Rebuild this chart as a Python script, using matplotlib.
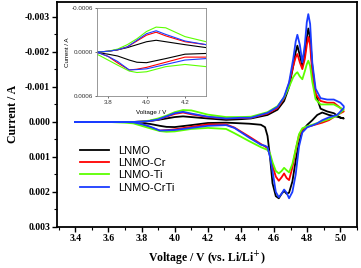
import numpy as np
import matplotlib
matplotlib.use('Agg')
import matplotlib.pyplot as plt
from matplotlib.ticker import FixedLocator, MultipleLocator

# anodic sweep (upper branch), shared voltage grid
v_up = [3.40, 3.60, 3.75, 3.80, 3.85, 3.90, 3.95, 4.00, 4.05, 4.10, 4.20, 4.31,
        4.40, 4.46, 4.56, 4.62, 4.66, 4.69, 4.715, 4.73, 4.74, 4.755, 4.77,
        4.785, 4.797, 4.806, 4.817, 4.83, 4.85, 4.88, 4.92, 4.96, 5.00, 5.02]
i_up_lnmo = [0, 0, 0, -1e-5, -3e-5, -6e-5, -1e-4, -1.4e-4, -1.6e-4, -1.4e-4,
             -1.0e-4, -6e-5, -8e-5, -1e-4, -2e-4, -3.5e-4, -6e-4, -1.0e-3,
             -1.6e-3, -2.0e-3, -2.18e-3, -1.9e-3, -1.6e-3, -1.9e-3, -2.4e-3,
             -2.67e-3, -2.4e-3, -1.6e-3, -8e-4, -3.8e-4, -3e-4, -2.5e-4,
             -1.2e-4, -1.0e-4]
i_up_cr = [0, 0, 0, -1e-5, -3e-5, -7e-5, -1.5e-4, -2.3e-4, -2.7e-4, -2.2e-4,
           -1.4e-4, -1.0e-4, -1.1e-4, -1.2e-4, -2.4e-4, -4e-4, -6.8e-4, -1.1e-3,
           -1.6e-3, -1.85e-3, -1.94e-3, -1.7e-3, -1.51e-3, -1.8e-3, -2.2e-3,
           -2.43e-3, -2.2e-3, -1.4e-3, -8e-4, -6e-4, -5.5e-4, -5.5e-4, -4e-4,
           -3e-4]
i_up_ti = [0, 0, 0, -1e-5, -4e-5, -1e-4, -1.8e-4, -2.8e-4, -3.4e-4, -3.3e-4,
           -2.1e-4, -1.4e-4, -1.4e-4, -1.5e-4, -2.8e-4, -4.5e-4, -7e-4, -1.0e-3,
           -1.28e-3, -1.38e-3, -1.42e-3, -1.3e-3, -1.22e-3, -1.45e-3, -1.65e-3,
           -1.75e-3, -1.6e-3, -1.15e-3, -6.5e-4, -5e-4, -5e-4, -5e-4, -4e-4,
           -3.5e-4]
i_up_crti = [0, 0, 0, -1e-5, -3e-5, -7e-5, -1.6e-4, -2.5e-4, -2.9e-4, -2.4e-4,
             -1.5e-4, -1.0e-4, -1.2e-4, -1.2e-4, -2.6e-4, -4.3e-4, -7.2e-4,
             -1.13e-3, -1.8e-3, -2.3e-3, -2.49e-3, -2.2e-3, -1.7e-3, -2.2e-3,
             -2.85e-3, -3.08e-3, -2.8e-3, -1.7e-3, -9.5e-4, -6.8e-4, -6.4e-4,
             -6.4e-4, -5.5e-4, -4.5e-4]

# cathodic sweep (lower branch), shared voltage grid
v_dn = [5.02, 4.98, 4.93, 4.89, 4.86, 4.83, 4.80, 4.77, 4.75, 4.73, 4.71, 4.69,
        4.675, 4.66, 4.645, 4.628, 4.61, 4.59, 4.575, 4.56, 4.545, 4.52, 4.45,
        4.36, 4.31, 4.20, 4.10, 4.00, 3.95, 3.91, 3.85, 3.80, 3.75, 3.70, 3.60,
        3.40]
i_dn_lnmo = [-1.0e-4, -1.5e-4, -2.0e-4, -2.7e-4, -2.0e-4, -5e-5, 8e-5, 2.5e-4,
             6e-4, 1.1e-3, 1.7e-3, 2.02e-3, 2.05e-3, 1.97e-3, 2.05e-3, 2.18e-3,
             2.12e-3, 1.75e-3, 1.0e-3, 4e-4, 1.5e-4, 8e-5, 5e-5, 3e-5, 2e-5,
             3e-5, 9e-5, 1.46e-4, 1.4e-4, 1.1e-4, 5.5e-5, 3e-5, 1e-5, 0, 0, 0]
i_dn_cr = [-3e-4, -2e-4, -5e-5, 2e-5, 6e-5, 1e-4, 1.4e-4, 2.2e-4, 3.8e-4, 8e-4,
           1.3e-3, 1.66e-3, 1.6e-3, 1.47e-3, 1.58e-3, 1.68e-3, 1.56e-3, 1.25e-3,
           9.5e-4, 7.5e-4, 7e-4, 6.3e-4, 4.2e-4, 1.6e-4, 7e-5, 7e-5, 1.4e-4,
           2.1e-4, 2.35e-4, 2.45e-4, 1.5e-4, 6e-5, 1e-5, 0, 0, 0]
i_dn_ti = [-3.5e-4, -1.8e-4, -8e-5, -2e-5, 3e-5, 8e-5, 1.2e-4, 1.8e-4, 3.5e-4,
           7.8e-4, 1.2e-3, 1.44e-3, 1.38e-3, 1.31e-3, 1.4e-3, 1.47e-3, 1.4e-3,
           1.15e-3, 9e-4, 8e-4, 7.7e-4, 7.2e-4, 5.5e-4, 3.2e-4, 2e-4, 1.7e-4,
           2.0e-4, 2.7e-4, 2.8e-4, 2.6e-4, 1.8e-4, 1.1e-4, 4e-5, 2e-5, 0, 0]
i_dn_crti = [-4e-4, -2e-4, -1.3e-4, -5e-5, 4e-5, 1e-4, 1.5e-4, 3e-4, 7e-4,
             1.5e-3, 2.0e-3, 2.18e-3, 2.02e-3, 1.93e-3, 2.05e-3, 2.15e-3, 2.0e-3,
             1.4e-3, 1.0e-3, 7.2e-4, 6.8e-4, 6.5e-4, 4.5e-4, 1.7e-4, 9e-5,
             1.1e-4, 1.7e-4, 2.3e-4, 2.4e-4, 2.45e-4, 1.3e-4, 6e-5, 1e-5, 0, 0, 0]

labels = ['LNMO', 'LNMO-Cr', 'LNMO-Ti', 'LNMO-CrTi']
colors = ['#000000', '#ff0000', '#5cff00', '#1a3cff']
up_curves = [i_up_lnmo, i_up_cr, i_up_ti, i_up_crti]
dn_curves = [i_dn_lnmo, i_dn_cr, i_dn_ti, i_dn_crti]

main_xticks = [3.4, 3.6, 3.8, 4.0, 4.2, 4.4, 4.6, 4.8, 5.0]
main_yticks = [-0.003, -0.002, -0.001, 0.000, 0.001, 0.002, 0.003]
inset_xticks = [3.8, 4.0, 4.2]
inset_yticks = [-0.0006, 0.0, 0.0006]

serif = 'Liberation Serif'
sans = 'Liberation Sans'

fig = plt.figure(figsize=(3.61, 2.68), dpi=100)
ax = fig.add_axes([0.158, 0.153, 0.831, 0.840])

for lab, col, iu, idn in zip(labels, colors, up_curves, dn_curves):
    v = list(v_up) + list(v_dn)
    cur = list(iu) + list(idn)
    ax.plot(v, cur, color=col, linewidth=1.3, label=lab, solid_joinstyle='round')

ax.set_xlim(3.29, 5.10)
ax.set_ylim(0.003, -0.00343)
ax.xaxis.set_major_locator(FixedLocator(main_xticks))
ax.xaxis.set_minor_locator(MultipleLocator(0.1))
ax.yaxis.set_major_locator(FixedLocator(main_yticks))
ax.yaxis.set_minor_locator(MultipleLocator(0.0005))
ax.set_xticklabels([f'{t:.1f}' for t in main_xticks])
ax.set_yticklabels([f'{t:.3f}' for t in main_yticks])
ax.tick_params(which='major', direction='out', length=3.5, width=1.0,
               labelsize=7, pad=1.5)
ax.tick_params(which='minor', direction='out', length=2, width=0.8)
for lbl in ax.get_xticklabels() + ax.get_yticklabels():
    lbl.set_fontfamily(serif)
    lbl.set_fontweight('bold')
for sp in ax.spines.values():
    sp.set_linewidth(1.3)

ax.set_xlabel('Voltage / V (vs. Li/Li$^{+}$)', fontfamily=serif,
              fontweight='bold', fontsize=8.5, labelpad=5)
ax.set_ylabel('Current / A', fontfamily=serif, fontweight='bold',
              fontsize=8.5, labelpad=4)

leg = ax.legend(loc='upper left', bbox_to_anchor=(0.063, 0.38), frameon=False,
                prop={'family': sans, 'size': 8}, handlelength=2.6,
                handletextpad=0.8, labelspacing=0.2, borderaxespad=0)

# inset
axi = fig.add_axes([0.269, 0.642, 0.302, 0.328])
for col, iu, idn in zip(colors, up_curves, dn_curves):
    v = list(v_up) + list(v_dn)
    cur = list(iu) + list(idn)
    axi.plot(v, cur, color=col, linewidth=0.8)
axi.set_xlim(3.743, 4.31)
axi.set_ylim(0.0006, -0.0006)
axi.xaxis.set_major_locator(FixedLocator(inset_xticks))
axi.yaxis.set_major_locator(FixedLocator(inset_yticks))
axi.set_xticklabels([f'{t:.1f}' for t in inset_xticks])
axi.set_yticklabels([f'{t:.4f}' for t in inset_yticks])
axi.tick_params(direction='out', length=1.5, width=0.5, labelsize=4.5,
                pad=1.5, colors='#333333')
for lbl in axi.get_xticklabels() + axi.get_yticklabels():
    lbl.set_fontfamily(sans)
for sp in axi.spines.values():
    sp.set_linewidth(0.6)
    sp.set_color('#888888')
axi.set_xlabel('Voltage / V', fontfamily=sans, fontsize=4.5, labelpad=3.5)
axi.set_ylabel('Current / A', fontfamily=sans, fontsize=4.5, labelpad=1)

fig.savefig('out.png', dpi=100)
